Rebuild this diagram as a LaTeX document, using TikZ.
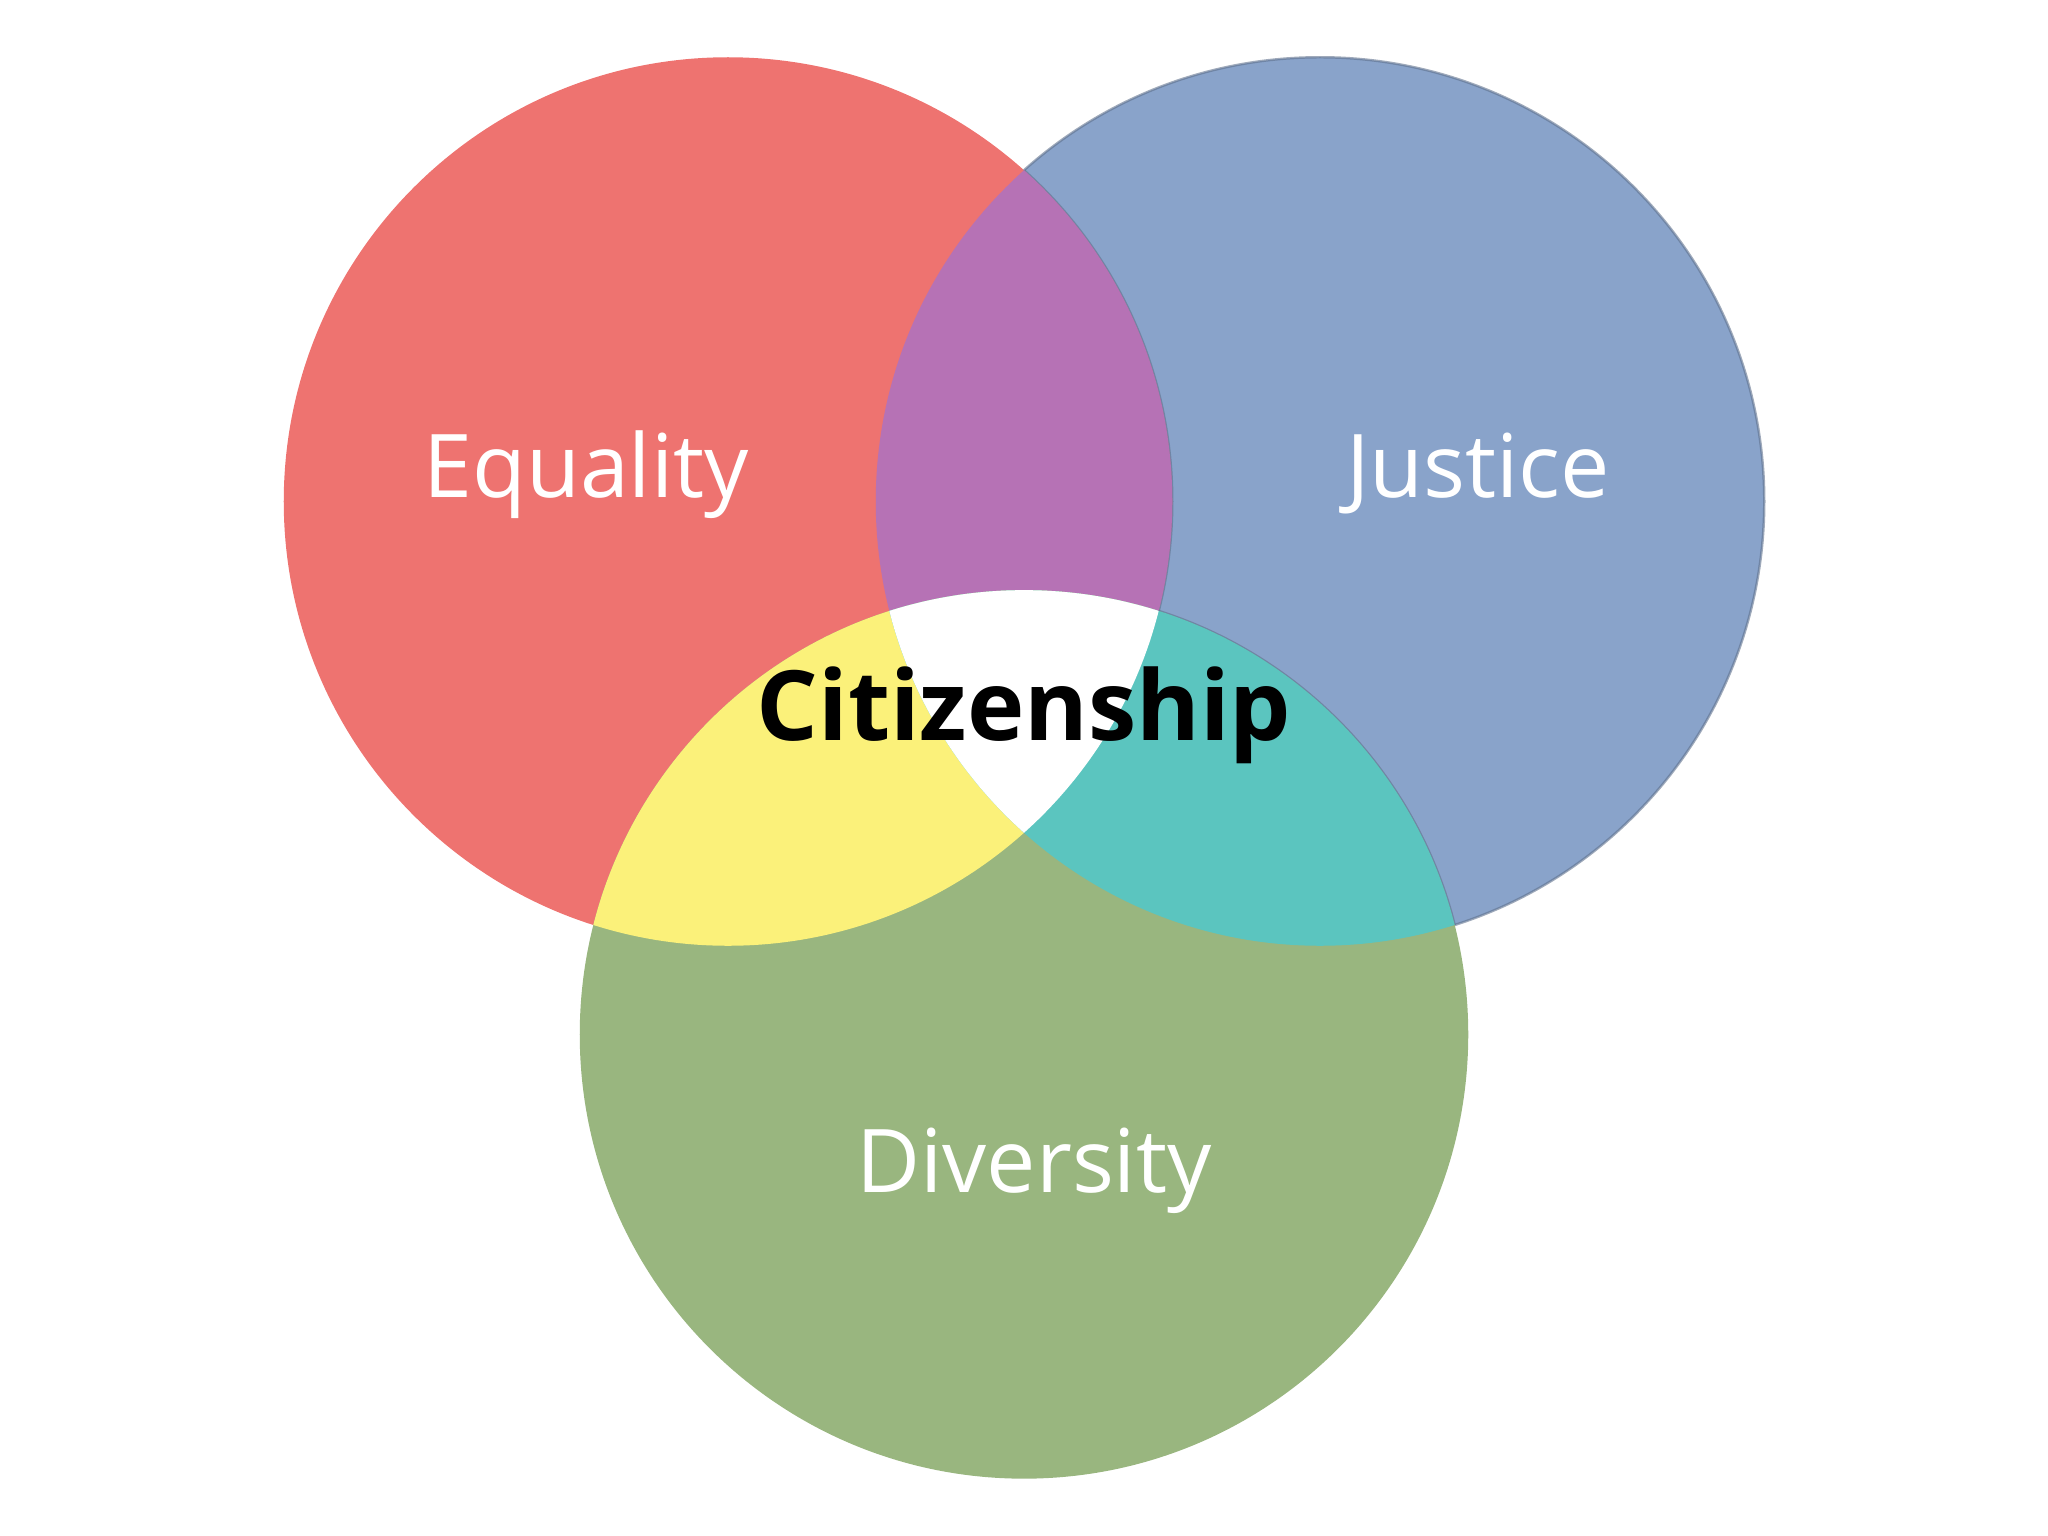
\documentclass[tikz,border=0pt]{standalone}
\usepackage{fontspec}
\setmainfont{Open Sans}
\usetikzlibrary{positioning}

\definecolor{eqred}{HTML}{EE7370}
\definecolor{jublue}{HTML}{89A3CA}
\definecolor{digreen}{HTML}{99B67F}
\definecolor{mixpurple}{HTML}{B672B5}
\definecolor{mixyellow}{HTML}{FBF17A}
\definecolor{mixteal}{HTML}{5BC5BF}

\begin{document}
\begin{tikzpicture}[
  x=0.01cm, y=-0.01cm,
  label/.style={text=white, anchor=base, inner sep=0pt, font=\fontsize{25pt}{30pt}\selectfont},
  core/.style={text=black, anchor=base, inner sep=0pt, font=\fontsize{27.6pt}{33pt}\selectfont\bfseries},
  rim/.style={draw=jublue!70!black, line width=0.7pt, opacity=0.6}
]
\useasboundingbox (0,0) rectangle (2048,1536);

% --- circle centres ---
\coordinate (eq) at (728,501.5);
\coordinate (ju) at (1320,501.5);
\coordinate (di) at (1024,1034.4);
\def\rad{4.44cm}

% --- the three sets ---
\fill[jublue] (ju) circle[radius=\rad];
\path[rim]    (ju) circle[radius=\rad];
\fill[eqred]   (eq) circle[radius=\rad];
\fill[digreen] (di) circle[radius=\rad];

% rim of the blue-only part
\begin{scope}
  \clip (ju) circle[radius=\rad];
  \path[rim] (eq) circle[radius=\rad];
  \path[rim] (di) circle[radius=\rad];
\end{scope}

% --- pairwise overlaps ---
\begin{scope}
  \clip (eq) circle[radius=\rad];
  \fill[mixpurple] (ju) circle[radius=\rad];
  \fill[mixyellow] (di) circle[radius=\rad];
\end{scope}
\begin{scope}
  \clip (ju) circle[radius=\rad];
  \fill[mixteal] (di) circle[radius=\rad];
\end{scope}

% --- triple overlap ---
\begin{scope}
  \clip (eq) circle[radius=\rad];
  \clip (ju) circle[radius=\rad];
  \fill[white] (di) circle[radius=\rad];
\end{scope}

% --- labels ---
\node[label] (equality)  at (586,497.6)  {Equality};
\node[label] (justice)   at (1478,497.6) {Justice};
\node[label] (diversity) at (1034,1192.5) {Diversity};
\node[core]  (citizen)   at (1024,740.5) {Citizenship};

\end{tikzpicture}
\end{document}
